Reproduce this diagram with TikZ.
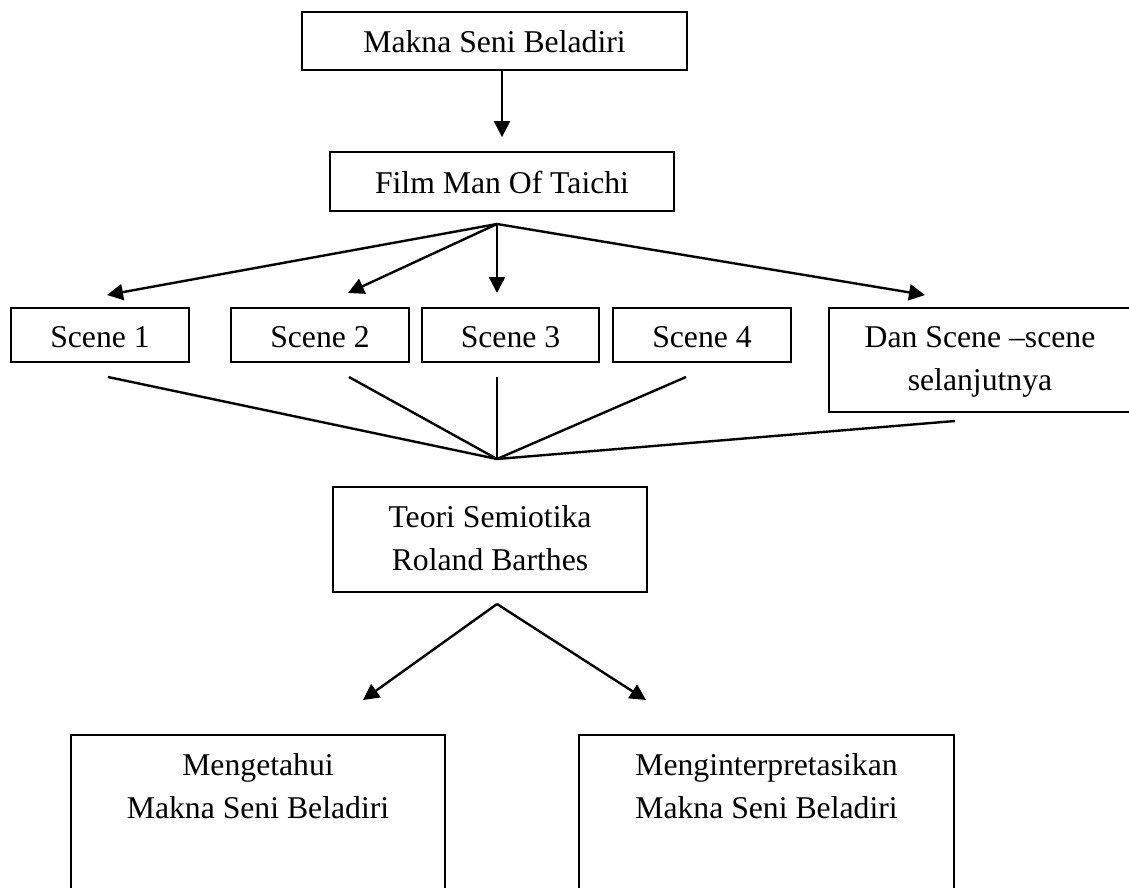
\documentclass[tikz,border=0pt]{standalone}
\usepackage{fontspec}
\setmainfont{Liberation Serif}
\usetikzlibrary{arrows.meta}
\begin{document}
\begin{tikzpicture}[x=1pt,y=-1pt,
  box/.style={draw, line width=1.8pt, inner sep=0pt, text height=24pt, text depth=0pt,
              font=\fontsize{31.7}{43}\selectfont},
  mbox/.style={box, align=center},
  link/.style={line width=2.4pt},
  arr/.style={link, -{Triangle[length=16pt,width=16pt]}}]
\useasboundingbox (0,0) rectangle (1129,888);
\begin{scope}
\clip (0,0) rectangle (1129,888);
% boxes
\node[box, minimum width=385pt, minimum height=58pt] (makna) at (494.5,41) {Makna Seni Beladiri};
\node[box, minimum width=344pt, minimum height=59pt] (film) at (502,181.5) {Film Man Of Taichi};
\node[box, minimum width=178pt, minimum height=54pt] (s1) at (100,335) {Scene 1};
\node[box, minimum width=178pt, minimum height=54pt] (s2) at (320,335) {Scene 2};
\node[box, minimum width=177pt, minimum height=54pt] (s3) at (510.5,335) {Scene 3};
\node[box, minimum width=178pt, minimum height=54pt] (s4) at (702,335) {Scene 4};
\node[mbox, text height=60pt, minimum width=302pt, minimum height=104pt] (dan) at (980,360) {Dan Scene –scene\\selanjutnya};
\node[mbox, text height=61pt, minimum width=314pt, minimum height=105pt] (teori) at (490,539.5) {Teori Semiotika\\Roland Barthes};
\node[mbox, text height=0pt, text depth=34pt, minimum width=374pt, minimum height=200pt] (tahu) at (258,835) {Mengetahui\\Makna Seni Beladiri};
\node[mbox, text height=0pt, text depth=34pt, minimum width=375pt, minimum height=200pt] (interp) at (766.5,835) {Menginterpretasikan\\Makna Seni Beladiri};
% fan points
\coordinate (f1) at (497,224);
\coordinate (t1) at (107,295);
\coordinate (t2) at (348,293);
\coordinate (t3) at (497,293);
\coordinate (t5) at (925,295);
\coordinate (g) at (497,459);
\coordinate (u1) at (108,377);
\coordinate (u2) at (349,377);
\coordinate (u3) at (497,377);
\coordinate (u4) at (686,377);
\coordinate (u5) at (955,421);
\coordinate (v) at (497,604);
\coordinate (w1) at (363,700);
\coordinate (w2) at (646,700);
% connectors
\draw[arr, shorten >=14pt] (makna.south -| film.north) -- (film.north);
\draw[arr] (f1) -- (t1);
\draw[arr] (f1) -- (t2);
\draw[arr] (f1) -- (t3);
\draw[arr] (f1) -- (t5);
\draw[link] (u1) -- (g);
\draw[link] (u2) -- (g);
\draw[link] (u3) -- (g);
\draw[link] (u4) -- (g);
\draw[link] (u5) -- (g);
\draw[arr] (v) -- (w1);
\draw[arr] (v) -- (w2);
\end{scope}
\end{tikzpicture}
\end{document}
